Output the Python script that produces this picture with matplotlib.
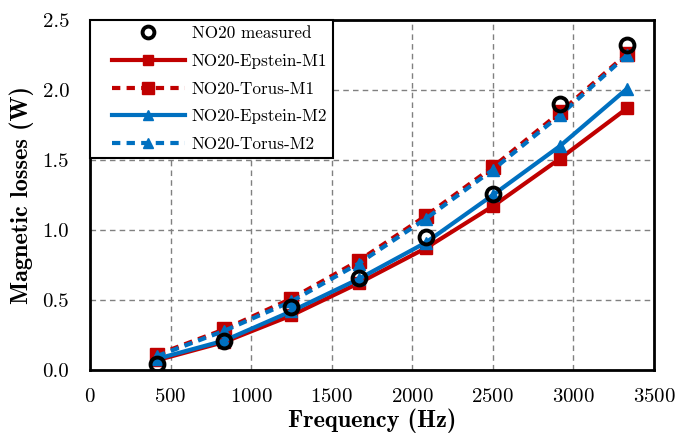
import matplotlib
matplotlib.use("Agg")
import matplotlib.pyplot as plt
from matplotlib.legend_handler import HandlerLine2D

# frequencies (Hz) and losses (W)
freq = [416.7, 833.3, 1250, 1666.7, 2083.3, 2500, 2916.7, 3333.3]
measured = [0.04, 0.21, 0.45, 0.66, 0.95, 1.26, 1.90, 2.32]
epstein_m1 = [0.07, 0.20, 0.39, 0.62, 0.87, 1.17, 1.51, 1.87]
torus_m1 = [0.11, 0.29, 0.51, 0.78, 1.10, 1.45, 1.84, 2.26]
epstein_m2 = [0.08, 0.21, 0.42, 0.65, 0.91, 1.25, 1.60, 2.01]
torus_m2 = [0.10, 0.28, 0.49, 0.76, 1.08, 1.43, 1.82, 2.25]

x_ticks = [0, 500, 1000, 1500, 2000, 2500, 3000, 3500]
y_ticks = [0.0, 0.5, 1.0, 1.5, 2.0, 2.5]

RED = "#C00000"
BLUE = "#0070C0"


class IndentedLine(HandlerLine2D):
    # legend sample that leaves some blank space on its left side
    def get_xdata(self, legend, xdescent, ydescent, width, height, fontsize):
        x0 = -xdescent + 0.18 * width
        x1 = -xdescent + width
        return [x0, x1], [0.5 * (x0 + x1)]


plt.rcParams["font.family"] = "cmr10"
plt.rcParams["mathtext.fontset"] = "cm"
plt.rcParams["axes.formatter.use_mathtext"] = True

fig = plt.figure(figsize=(6.79, 4.38), dpi=100)
ax = fig.add_axes([90 / 679, 68 / 438, 564 / 679, 350 / 438])

ax.plot(freq, measured, linestyle="none", marker="o", markersize=10,
        markerfacecolor="none", markeredgecolor="black", markeredgewidth=2.8,
        label="NO20 measured", zorder=6)
ax.plot(freq, epstein_m1, color=RED, linewidth=3, marker="s", markersize=9,
        label="NO20-Epstein-M1", zorder=3)
ax.plot(freq, torus_m1, color=RED, linewidth=3, linestyle=(0, (2, 1.5)),
        marker="s", markersize=10, label="NO20-Torus-M1", zorder=4)
ax.plot(freq, epstein_m2, color=BLUE, linewidth=3, marker="^", markersize=9,
        label="NO20-Epstein-M2", zorder=4)
ax.plot(freq, torus_m2, color=BLUE, linewidth=3, linestyle=(0, (2, 1.5)),
        marker="^", markersize=9, label="NO20-Torus-M2", zorder=5)

ax.set_xlim(0, 3500)
ax.set_ylim(0, 2.5)
ax.set_xticks(x_ticks)
ax.set_yticks(y_ticks)
ax.set_yticklabels(["%.1f" % v for v in y_ticks])
ax.tick_params(length=0, labelsize=15)
ax.tick_params(axis="x", pad=13)
ax.tick_params(axis="y", pad=15)
ax.grid(True, color="#808080", linestyle=(0, (4, 3)), linewidth=1)
for sp in ax.spines.values():
    sp.set_linewidth(2)

ax.set_xlabel("Frequency (Hz)", fontfamily="cmb10", fontsize=17.5, labelpad=2)
ax.set_ylabel("Magnetic losses (W)", fontfamily="cmb10", fontsize=17.5, labelpad=6)

leg = ax.legend(loc="upper left", borderaxespad=0, fancybox=False,
                framealpha=1, edgecolor="black", fontsize=12.3, numpoints=1,
                handlelength=5.2, labelspacing=0.72, borderpad=0.35,
                handletextpad=0.4, markerscale=0.85,
                handler_map={matplotlib.lines.Line2D: IndentedLine()})
leg.get_frame().set_linewidth(1.5)

fig.savefig("out.png", dpi=100)
